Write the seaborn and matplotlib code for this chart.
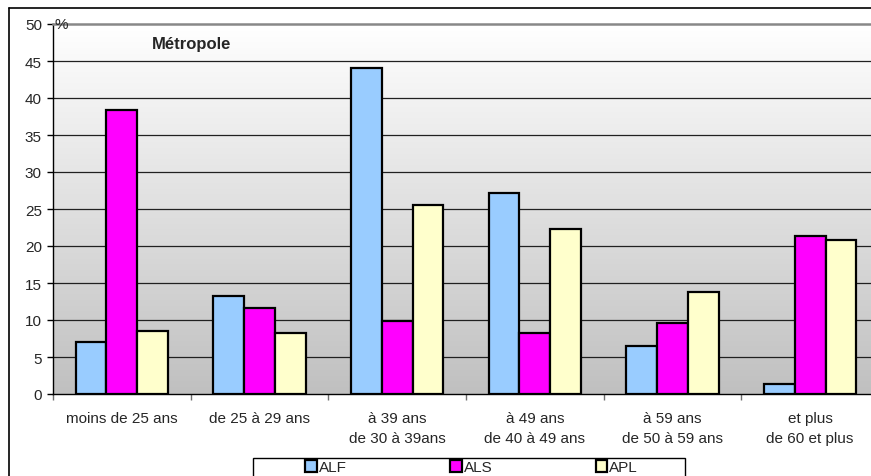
import matplotlib
matplotlib.use("Agg")
import matplotlib.pyplot as plt
import numpy as np
import pandas as pd
import seaborn as sns
from matplotlib.colors import LinearSegmentedColormap
from matplotlib.lines import Line2D
from matplotlib.patches import Rectangle

# values (%)
age_groups = [
    "moins de 25 ans",
    "de 25 à 29 ans",
    "à 39 ans\nde 30 à 39ans",
    "à 49 ans\nde 40 à 49 ans",
    "à 59 ans\nde 50 à 59 ans",
    "et plus\nde 60 et plus",
]
alf = [7.0, 13.3, 44.0, 27.1, 6.5, 1.3]
als = [38.4, 11.6, 9.9, 8.2, 9.6, 21.4]
apl = [8.5, 8.2, 25.5, 22.3, 13.8, 20.8]
series = ["ALF", "ALS", "APL"]
colors = ["#99ccff", "#ff00ff", "#ffffcc"]
y_ticks = list(range(0, 51, 5))

df = pd.DataFrame({"age": age_groups, "ALF": alf, "ALS": als, "APL": apl})
long_df = df.melt(id_vars="age", var_name="aide", value_name="pct")

sns.set_style("white")
plt.rcParams["font.family"] = ["Liberation Sans", "DejaVu Sans"]

W, H = 871, 477
fig = plt.figure(figsize=(W / 100, H / 100), dpi=100)
left, right, top, bottom = 53, 879, 25, 395
ax = fig.add_axes([left / W, 1 - bottom / H, (right - left) / W, (bottom - top) / H])

# grey-to-white gradient behind the bars
grad = np.linspace(0, 1, 256).reshape(-1, 1)
cmap = LinearSegmentedColormap.from_list("bg", ["#ffffff", "#c0c0c0"])
ax.imshow(grad, cmap=cmap, aspect="auto", extent=[0, 1, 0, 1],
          transform=ax.transAxes, zorder=0, origin="upper")

sns.barplot(data=long_df, x="age", y="pct", hue="aide", hue_order=series,
            palette=colors, width=0.67, gap=0, edgecolor="black",
            linewidth=1.6, saturation=1, ax=ax, zorder=3)

ax.set_xlim(-0.5, 5.5)
ax.set_ylim(0, 50)
ax.set_yticks(y_ticks)
ax.set_xlabel("")
ax.set_ylabel("")
for y in y_ticks[1:-1]:
    ax.axhline(y, color="#202020", lw=0.9, zorder=1)

ax.spines["right"].set_visible(False)
ax.spines["top"].set_color("#888888")
ax.spines["top"].set_linewidth(1.8)
for side in ["left", "bottom"]:
    ax.spines[side].set_color("black")
    ax.spines[side].set_linewidth(1.0)

ax.tick_params(axis="y", which="major", left=True, length=4, width=1,
               pad=4, labelsize=11, color="black")
ax.tick_params(axis="x", which="major", bottom=False, length=0, pad=12, labelsize=11)
ax.set_xticks(np.arange(-0.5, 6, 1), minor=True)
ax.tick_params(axis="x", which="minor", bottom=True, length=4, width=1,
               color="#707070", direction="out")
for lab in ax.get_xticklabels():
    lab.set_linespacing(1.55)
    lab.set_verticalalignment("top")

handles, labels = ax.get_legend_handles_labels()
ax.get_legend().remove()

# legend box, cut off by the bottom edge like in the original
fig.add_artist(Rectangle((253 / W, -0.05), 432 / W, 0.05 + 1 - 459 / H,
                         transform=fig.transFigure, facecolor="white",
                         edgecolor="black", lw=1.0))
leg = fig.legend(handles, labels, loc="upper left", ncol=3,
                 bbox_to_anchor=(303 / W, 1 - 459 / H),
                 frameon=False, handlelength=0.75, handleheight=0.75,
                 handletextpad=0.15, columnspacing=6.75, borderaxespad=0,
                 fontsize=11, borderpad=0.15)

fig.text(61 / W, 1 - 25 / H, "%", ha="center", va="center", fontsize=11)
fig.text(192 / W, 1 - 44 / H, "Métropole", ha="center", va="center",
         fontsize=12, fontweight="bold")

# outer chart frame (cut off at right and bottom)
fig.add_artist(Line2D([9 / W, 9 / W], [1 - 9 / H, 0], color="black", lw=1.2))
fig.add_artist(Line2D([9 / W, 1], [1 - 9 / H, 1 - 9 / H], color="black", lw=1.2))

fig.savefig("out.png", dpi=100)
